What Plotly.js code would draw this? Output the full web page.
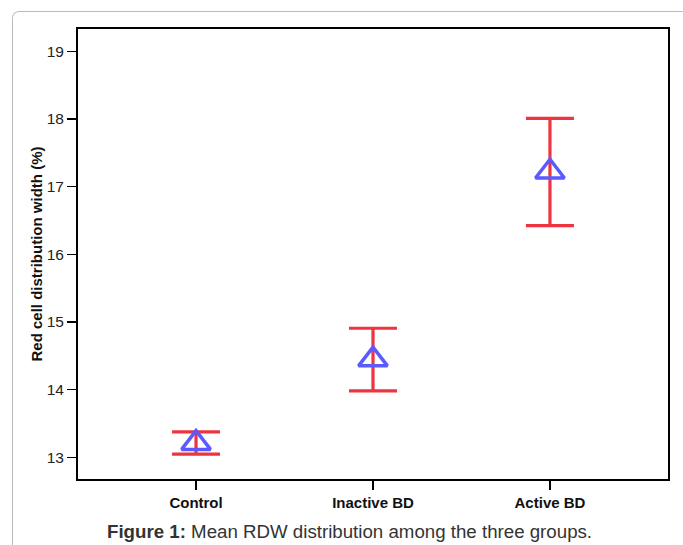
<!DOCTYPE html>
<html>
<head>
<meta charset="utf-8">
<script src="https://cdn.plot.ly/plotly-3.0.1.min.js"></script>
<style>
  html, body { margin: 0; padding: 0; background: #ffffff; }
  #wrap { position: relative; width: 683px; height: 545px; overflow: hidden; }
  #frame { position: absolute; left: 12px; top: 11px; width: 700px; height: 560px;
           border-left: 1px solid #bcbcbc; border-top: 1px solid #bcbcbc;
           border-top-left-radius: 7px; box-sizing: border-box; }
  #chart { position: absolute; left: 0; top: 0; width: 683px; height: 545px; }
</style>
</head>
<body>
<div id="wrap">
  <div id="frame"></div>
  <div id="chart"></div>
</div>
<script>
// Data
const groups = ["Control", "Inactive BD", "Active BD"];
const meanRDW = [13.21, 14.445, 17.22];
const upperCI = [13.377, 14.908, 18.01];
const lowerCI = [13.047, 13.982, 16.424];
const yTicks = [13, 14, 15, 16, 17, 18, 19];

const errPlus = upperCI.map((u, i) => u - meanRDW[i]);
const errMinus = lowerCI.map((l, i) => meanRDW[i] - l);

const FONT = "Liberation Sans, Arial, Helvetica, sans-serif";

const trace = {
  type: "scatter",
  mode: "markers",
  x: groups,
  y: meanRDW,
  marker: {
    symbol: "triangle-up-open",
    size: 25,
    color: "#5a5aff",
    line: { color: "#5a5aff", width: 3.5 }
  },
  error_y: {
    type: "data",
    symmetric: false,
    array: errPlus,
    arrayminus: errMinus,
    color: "#ee3440",
    thickness: 3.2,
    width: 24
  },
  hoverinfo: "skip",
  showlegend: false
};

const layout = {
  width: 683,
  height: 545,
  margin: { l: 78, r: 15, t: 29, b: 66 },
  paper_bgcolor: "rgba(0,0,0,0)",
  plot_bgcolor: "#ffffff",
  font: { family: FONT, color: "#222222", size: 15 },
  showlegend: false,
  xaxis: {
    type: "category",
    range: [-0.667, 2.667],
    showgrid: false,
    zeroline: false,
    showline: true,
    linecolor: "#000000",
    linewidth: 2,
    mirror: true,
    ticks: "outside",
    ticklen: 9,
    tickwidth: 1.5,
    tickcolor: "#000000",
    tickfont: { family: FONT, size: 15, color: "#111111", weight: "bold" },
    fixedrange: true
  },
  yaxis: {
    range: [12.68, 19.33],
    tickvals: yTicks,
    ticktext: yTicks.map(String),
    showgrid: false,
    zeroline: false,
    showline: true,
    linecolor: "#000000",
    linewidth: 2,
    mirror: true,
    ticks: "outside",
    ticklen: 9,
    tickwidth: 1.5,
    tickcolor: "#000000",
    tickfont: { family: FONT, size: 15.5, color: "#222222" },
    title: {
      text: "Red cell distribution width (%)",
      font: { family: FONT, size: 15, color: "#111111", weight: "bold" },
      standoff: 0
    },
    fixedrange: true
  },
  annotations: [{
    xref: "paper", yref: "paper",
    x: 0.461, y: -0.1156,
    xanchor: "center", yanchor: "middle",
    showarrow: false,
    text: "<b>Figure 1:</b> Mean RDW distribution among the three groups.",
    font: { family: FONT, size: 18.7, color: "#333333" }
  }]
};

Plotly.newPlot("chart", [trace], layout, { displayModeBar: false, staticPlot: true });
</script>
</body>
</html>
